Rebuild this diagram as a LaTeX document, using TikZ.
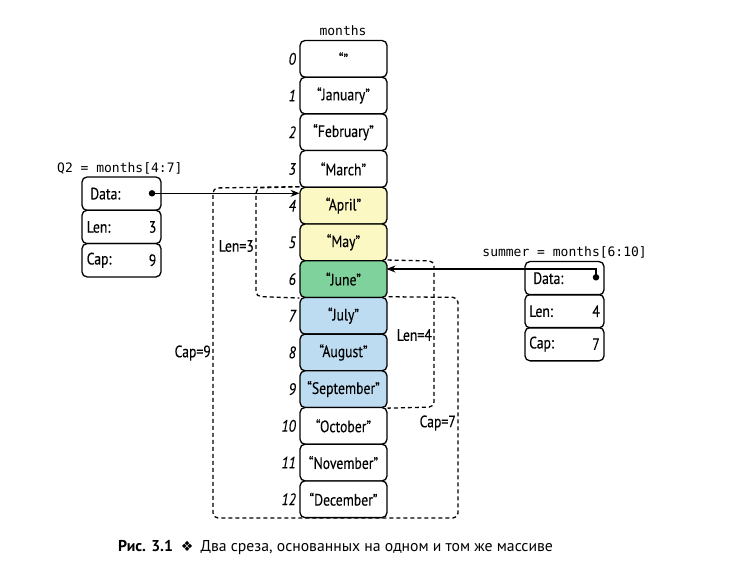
\documentclass[tikz,border=0pt]{standalone}
\usepackage{fontspec}
\setmainfont{PT Sans}[FakeStretch=0.83,FakeBold=0.2]
\newfontfamily\monofont{DejaVu Sans Mono}
\newfontfamily\symfont{DejaVu Sans}
\newfontfamily\capfont{PT Sans}
\usetikzlibrary{calc,arrows.meta}
\definecolor{yel}{HTML}{FCF8C4}
\definecolor{grn}{HTML}{7FD29B}
\definecolor{blu}{HTML}{BDDCF1}
\tikzset{
  cell/.style={draw, line width=1.3pt, rounded corners=5pt, minimum width=87pt, minimum height=36.7pt, inner sep=0pt, font=\fontsize{16.5}{18}\selectfont},
  idx/.style={anchor=east, inner sep=0pt, font=\fontsize{16.5}{18}\selectfont\itshape},
  field/.style={draw, line width=1.3pt, rounded corners=5pt, minimum width=79pt, minimum height=33.3pt, inner sep=0pt},
  ftxt/.style={inner sep=0pt, font=\fontsize{16.5}{18}\selectfont},
  mono/.style={inner sep=0pt, font=\fontsize{13}{15}\monofont},
  brk/.style={draw, line width=1.3pt, dash pattern=on 4pt off 3pt, rounded corners=5pt},
  blab/.style={anchor=east, inner sep=0pt, font=\fontsize{16.5}{18}\selectfont},
  dot/.style={circle, fill, inner sep=0pt, minimum size=6.5pt},
  arr/.style={line width=1.2pt, -{Stealth[length=9pt,width=7pt]}},
}
\begin{document}
\begin{tikzpicture}[x=1pt,y=-1pt]
\useasboundingbox (0,0) rectangle (739,572);
% months column
\node[mono] (mlabel) at (343,31) {months};
\foreach \i/\t/\c in {0/“”/white,1/“January”/white,2/“February”/white,3/“March”/white,4/“April”/yel,5/“May”/yel,6/“June”/grn,7/“July”/blu,8/“August”/blu,9/“September”/blu,10/“October”/white,11/“November”/white,12/“December”/white}{
  \node[cell, fill=\c] (m\i) at (343.5,{40.5+36.7*\i+18.35}) {\t};
  \node[idx] (i\i) at (296,{40.5+36.7*\i+18.35}) {\i};
}
% dashed brackets
\draw[brk] (m4.north west) -- (213,188) -- (213,518) -- (458,518) -- (458,297.4) -- (m7.north east);
\draw[brk] (m4.north west) -- (256,188) -- (256,296.5) -- (m6.south west);
\draw[brk] (m6.north east) -- (434,261) -- (434,407) -- (m9.south east);
\node[blab] (l3) at (254,246) {Len=3};
\node[blab] (c9) at (211,353) {Cap=9};
\node[blab] (l4) at (432,335) {Len=4};
\node[blab] (c7) at (456,423) {Cap=7};
% Q2 struct
\node[mono, anchor=west] (q2label) at (57,168) {Q2 = months[4:7]};
\node[field] (qd) at (121.5,193.65) {};
\node[field] (ql) at (121.5,226.95) {};
\node[field] (qc) at (121.5,260.25) {};
\node[ftxt, anchor=west] (qdt) at (90,193.65) {Data:};
\node[ftxt, anchor=west] (qlt) at (86.5,226.95) {Len:};
\node[ftxt, anchor=east] (qlv) at (156.5,226.95) {3};
\node[ftxt, anchor=west] (qct) at (86.5,260.25) {Cap:};
\node[ftxt, anchor=east] (qcv) at (156.5,260.25) {9};
\node[dot] (qdot) at (152,193.3) {};
\coordinate (qtip) at (299.5,193.3);
\draw[arr] (qdot.center) -- (qtip);
% summer struct
\node[mono, anchor=east] (slabel) at (647,252.7) {summer = months[6:10]};
\node[field] (sd) at (564.5,278.2) {};
\node[field] (sl) at (564.5,311.2) {};
\node[field] (sc) at (564.5,344.2) {};
\node[ftxt, anchor=west] (sdt) at (533,278.2) {Data:};
\node[ftxt, anchor=west] (slt) at (529,311.2) {Len:};
\node[ftxt, anchor=east] (slv) at (600,311.2) {4};
\node[ftxt, anchor=west] (sct) at (529,344.2) {Cap:};
\node[ftxt, anchor=east] (scv) at (600,344.2) {7};
\node[dot] (sdot) at (596,277.3) {};
\coordinate (stip) at (386.5,269);
\draw[arr] (sdot.center) |- (stip);
% caption
\node[anchor=west, inner sep=0pt, font=\fontsize{15.7}{18}\capfont] (cap) at (118,547) {\textbf{Рис. 3.1}\hspace{8pt}{\symfont\fontsize{14}{16}\selectfont ❖}\hspace{7pt}Два среза, основанных на одном и том же массиве};
\end{tikzpicture}
\end{document}
